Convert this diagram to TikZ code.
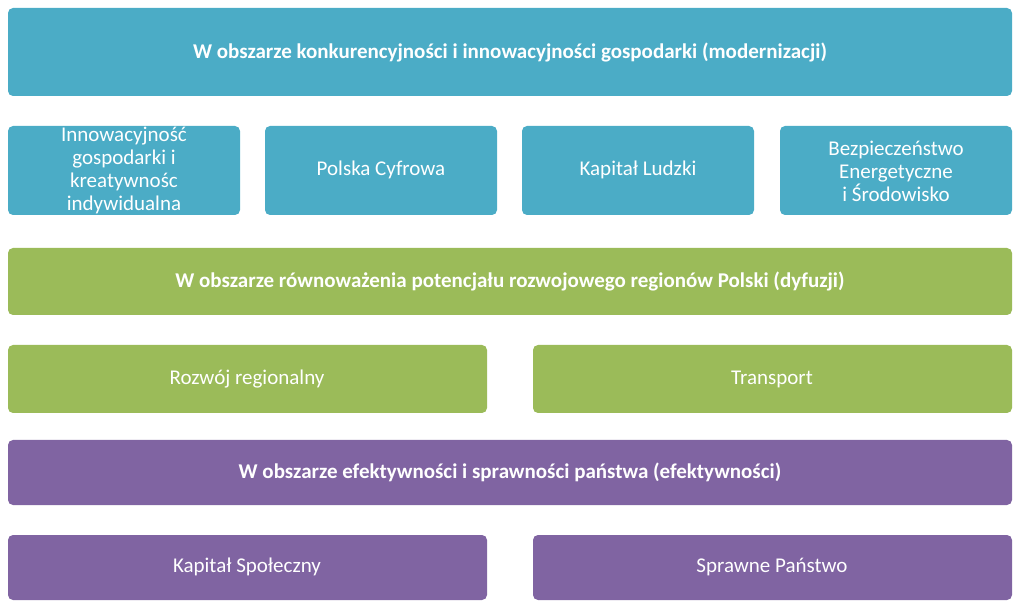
\documentclass[tikz,border=0pt]{standalone}
\usepackage{fontspec}
\setmainfont{Carlito}
\definecolor{cblue}{HTML}{4BACC6}
\definecolor{cgreen}{HTML}{9BBB59}
\definecolor{cpurp}{HTML}{8064A2}
\begin{document}
\begin{tikzpicture}[x=1pt,y=-1pt,
  box/.style={text=white,font=\fontsize{21}{23}\selectfont,align=center,inner sep=0pt},
  hdr/.style={box,font=\fontsize{21}{23}\selectfont\bfseries}]
\useasboundingbox (0,0) rectangle (1023,609);
% top
\fill[cblue,rounded corners=5pt] (8,8) rectangle (1012,96);
\node[hdr] (h1) at (510,52) {W obszarze konkurencyjności i innowacyjności gospodarki (modernizacji)};
\foreach \a/\b in {8/240,265/497,522/754,780/1012}
  \fill[cblue,rounded corners=5pt] (\a,126) rectangle (\b,215);
\node[box] (a) at (124,170) {Innowacyjność\\gospodarki i\\kreatywnośc\\indywidualna};
\node[box] (b) at (381,170) {Polska Cyfrowa};
\node[box] (c) at (638,170) {Kapitał Ludzki};
\node[box] (d) at (896,171) {Bezpieczeństwo\\Energetyczne\\i Środowisko};
% green
\fill[cgreen,rounded corners=5pt] (8,248) rectangle (1012,315);
\node[hdr] (h2) at (510,281) {W obszarze równoważenia potencjału rozwojowego regionów Polski (dyfuzji)};
\fill[cgreen,rounded corners=5pt] (8,345) rectangle (487,413);
\fill[cgreen,rounded corners=5pt] (533,345) rectangle (1012,413);
\node[box] (e) at (247,379) {Rozwój regionalny};
\node[box] (f) at (772,379) {Transport};
% purple
\fill[cpurp,rounded corners=5pt] (8,440) rectangle (1012,505);
\node[hdr] (h3) at (510,472) {W obszarze efektywności i sprawności państwa (efektywności)};
\fill[cpurp,rounded corners=5pt] (8,535) rectangle (487,600);
\fill[cpurp,rounded corners=5pt] (533,535) rectangle (1012,600);
\node[box] (g) at (247,567) {Kapitał Społeczny};
\node[box] (h) at (772,567) {Sprawne Państwo};
\end{tikzpicture}
\end{document}
